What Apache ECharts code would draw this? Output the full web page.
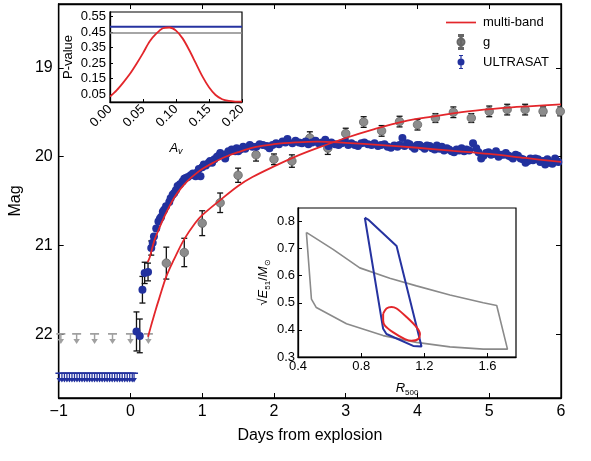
<!DOCTYPE html>
<html><head><meta charset="utf-8">
<script src="https://cdn.jsdelivr.net/npm/echarts@6/dist/echarts.min.js"></script>
<style>html,body{margin:0;padding:0;background:#fff}#c{width:591px;height:461px}</style>
</head><body><div id="c"></div>
<script>
// ---------- main panel data ----------
const xTicks = [-1, 0, 1, 2, 3, 4, 5, 6];
const yTicks = [19, 20, 21, 22];

// g band detections (days, mag, error)
const gDays = [0.5, 0.75, 1.0, 1.25, 1.5, 1.75, 2.0, 2.25, 2.5, 2.75, 3.0, 3.25, 3.5, 3.75, 4.0, 4.25, 4.5, 4.75, 5.0, 5.25, 5.5, 5.75, 5.99];
const gMag = [21.20, 21.08, 20.75, 20.52, 20.21, 19.98, 20.03, 20.05, 19.79, 19.905, 19.74, 19.61, 19.71, 19.605, 19.64, 19.565, 19.50, 19.565, 19.49, 19.47, 19.47, 19.49, 19.49];
const gErr = [0.18, 0.16, 0.14, 0.11, 0.08, 0.07, 0.06, 0.07, 0.07, 0.07, 0.06, 0.06, 0.06, 0.06, 0.06, 0.05, 0.06, 0.05, 0.06, 0.06, 0.06, 0.05, 0.05];

// g band upper limits
const gLimDays = [-0.97, -0.75, -0.5, -0.25, 0.0, 0.25];
const gLimMag = [22.05, 22.05, 22.05, 22.05, 22.05, 22.05];

// ULTRASAT detections
const uvDays = [0.084, 0.13, 0.167, 0.198, 0.245, 0.29, 0.31, 0.327, 0.359, 0.39, 0.41, 0.427, 0.451, 0.47, 0.496, 0.541, 0.56, 0.588, 0.61, 0.633, 0.657, 0.69, 0.725, 0.75, 0.771, 0.8, 0.839, 0.87, 0.908, 0.93, 0.953, 0.976, 1.0, 1.022, 1.05, 1.09, 1.11, 1.137, 1.17, 1.206, 1.23, 1.251, 1.28, 1.32, 1.34, 1.365, 1.411, 1.433, 1.46, 1.48, 1.502, 1.53, 1.571, 1.6, 1.663, 1.7, 1.755, 1.8, 1.845, 1.9, 1.937, 1.98, 2.029, 2.07, 2.12, 2.16, 2.188, 2.257, 2.3, 2.349, 2.39, 2.441, 2.48, 2.531, 2.58, 2.623, 2.67, 2.715, 2.761, 2.8, 2.853, 2.9, 2.943, 2.99, 3.035, 3.08, 3.127, 3.17, 3.218, 3.26, 3.31, 3.36, 3.402, 3.45, 3.492, 3.54, 3.584, 3.63, 3.676, 3.721, 3.75, 3.79, 3.82, 3.859, 3.89, 3.927, 3.96, 3.996, 4.03, 4.064, 4.1, 4.133, 4.17, 4.202, 4.24, 4.27, 4.31, 4.339, 4.37, 4.408, 4.44, 4.476, 4.51, 4.545, 4.58, 4.614, 4.65, 4.682, 4.72, 4.774, 4.819, 4.85, 4.888, 4.92, 4.956, 4.99, 5.025, 5.06, 5.094, 5.13, 5.162, 5.2, 5.231, 5.27, 5.3, 5.33, 5.368, 5.4, 5.437, 5.47, 5.506, 5.54, 5.574, 5.61, 5.643, 5.68, 5.711, 5.75, 5.78, 5.81, 5.849, 5.88, 5.917, 5.94, 5.963];
const uvMag = [21.97, 22.02, 21.50, 21.31, 21.30, 21.03, 20.97, 20.90, 20.81, 20.73, 20.70, 20.68, 20.62, 20.60, 20.56, 20.51, 20.47, 20.43, 20.41, 20.38, 20.33, 20.31, 20.28, 20.25, 20.24, 20.23, 20.21, 20.19, 20.22, 20.18, 20.14, 20.22, 20.12, 20.09, 20.10, 20.07, 20.05, 20.07, 20.03, 20.00, 19.99, 19.96, 19.98, 20.02, 19.97, 19.94, 19.92, 19.93, 19.94, 19.905, 19.94, 19.92, 19.89, 19.91, 19.87, 19.89, 19.89, 19.86, 19.87, 19.88, 19.905, 19.87, 19.85, 19.86, 19.83, 19.84, 19.80, 19.85, 19.82, 19.84, 19.85, 19.83, 19.86, 19.84, 19.82, 19.85, 19.84, 19.81, 19.88, 19.84, 19.86, 19.87, 19.85, 19.83, 19.87, 19.85, 19.87, 19.88, 19.85, 19.84, 19.86, 19.87, 19.85, 19.88, 19.87, 19.86, 19.89, 19.90, 19.875, 19.89, 19.87, 19.79, 19.88, 19.85, 19.86, 19.89, 19.91, 19.87, 19.87, 19.89, 19.91, 19.875, 19.88, 19.905, 19.92, 19.875, 19.91, 19.89, 19.93, 19.905, 19.92, 19.94, 19.95, 19.92, 19.93, 19.905, 19.94, 19.92, 19.93, 19.85, 19.905, 19.95, 20.02, 19.99, 19.96, 19.95, 19.98, 19.97, 19.94, 20.00, 19.98, 19.98, 19.96, 19.99, 20.00, 20.02, 19.98, 19.99, 20.02, 20.03, 20.07, 20.05, 20.02, 20.04, 20.02, 20.03, 20.06, 20.05, 20.09, 20.03, 20.07, 20.08, 20.02, 20.05, 20.06];

// ULTRASAT points with drawn error bars
const uvErrDays = [0.084, 0.13, 0.167, 0.198, 0.245, 0.29];
const uvErrMag = [21.97, 22.02, 21.50, 21.31, 21.30, 21.03];
const uvErrSize = [0.22, 0.19, 0.15, 0.12, 0.10, 0.08];

// ULTRASAT upper limits
const uvLimDays = [-0.99, -0.955, -0.92, -0.885, -0.85, -0.815, -0.78, -0.745, -0.71, -0.675, -0.64, -0.605, -0.57, -0.535, -0.5, -0.465, -0.43, -0.395, -0.36, -0.325, -0.29, -0.255, -0.22, -0.185, -0.15, -0.115, -0.08, -0.045, -0.01, 0.025, 0.05];
const uvLimMag = 22.49;

// multi-band model curves
const uvModelDays = [0.24, 0.27, 0.3, 0.34, 0.4, 0.47, 0.55, 0.62, 0.7, 0.8, 0.9, 1.0, 1.15, 1.3, 1.5, 1.75, 2.0, 2.3, 2.6, 3.0, 3.5, 4.0, 4.5, 5.0, 5.5, 6.0];
const uvModelMag = [21.19, 21.13, 21.04, 20.93, 20.81, 20.68, 20.55, 20.45, 20.36, 20.27, 20.20, 20.14, 20.07, 20.01, 19.95, 19.89, 19.86, 19.84, 19.83, 19.845, 19.87, 19.90, 19.935, 19.97, 20.015, 20.06];
const gModelDays = [0.245, 0.3, 0.35, 0.4, 0.5, 0.6, 0.75, 0.9, 1.0, 1.25, 1.5, 1.7, 2.0, 2.3, 2.6, 3.0, 3.4, 3.8, 4.2, 4.7, 5.2, 5.6, 6.0];
const gModelMag = [22.03, 21.87, 21.73, 21.60, 21.35, 21.17, 20.93, 20.75, 20.66, 20.49, 20.33, 20.23, 20.11, 20.00, 19.905, 19.79, 19.69, 19.605, 19.55, 19.49, 19.45, 19.43, 19.41];

// ---------- inset 1: P-value vs A_V ----------
const avValues = [0, 0.01, 0.02, 0.03, 0.04, 0.05, 0.06, 0.07, 0.08, 0.09, 0.10, 0.11, 0.12, 0.13, 0.14, 0.15, 0.16, 0.17, 0.18, 0.19, 0.20];
const pValues = [0.035, 0.075, 0.125, 0.18, 0.245, 0.315, 0.39, 0.44, 0.475, 0.48, 0.46, 0.41, 0.335, 0.25, 0.165, 0.095, 0.045, 0.018, 0.007, 0.003, 0.002];
const pBlue = 0.485;
const pGrey = 0.445;
const pTicks = [0.05, 0.15, 0.25, 0.35, 0.45, 0.55];
const avTicks = [0, 0.05, 0.10, 0.15, 0.20];

// ---------- inset 2: contours ----------
const greyR = [0.453, 0.622, 0.791, 0.981, 1.15, 1.362, 1.573, 1.658, 1.726, 1.573, 1.362, 1.15, 0.939, 0.707, 0.516, 0.485, 0.453];
const greyE = [0.76, 0.6975, 0.629, 0.591, 0.5625, 0.529, 0.50, 0.49, 0.329, 0.329, 0.3375, 0.354, 0.379, 0.4225, 0.4825, 0.514, 0.76];
const blueR = [0.823, 0.844, 1.024, 1.182, 1.129, 0.96, 0.939, 0.823];
const blueE = [0.814, 0.8075, 0.71, 0.339, 0.341, 0.385, 0.404, 0.814];
const redR = [0.939, 0.96, 0.992, 1.024, 1.087, 1.15, 1.172, 1.161, 1.119, 1.077, 1.003, 0.95, 0.939, 0.939];
const redE = [0.46, 0.479, 0.485, 0.479, 0.4475, 0.41, 0.385, 0.366, 0.36, 0.366, 0.391, 0.416, 0.435, 0.46];
const rTicks = [0.4, 0.8, 1.2, 1.6];
const eTicks = [0.3, 0.4, 0.5, 0.6, 0.7, 0.8];

// ---------- build ----------
const FONT = '"Liberation Sans", Arial, sans-serif';
const RED = '#e3262b', BLUE = '#22319e', GREY = '#8c8c8c';
const zip = (a, b) => a.map((v, i) => [v, b[i]]);
const zip3 = (a, b, c) => a.map((v, i) => [v, b[i], c[i]]);

function errBar(params, api) {
  const x = api.value(0), y = api.value(1), e = api.value(2);
  const t = api.coord([x, y - e]), b = api.coord([x, y + e]);
  const cw = 3, st = { stroke: '#111', lineWidth: 1.3 };
  return { type: 'group', children: [
    { type: 'line', shape: { x1: t[0], y1: t[1], x2: b[0], y2: b[1] }, style: st },
    { type: 'line', shape: { x1: t[0] - cw, y1: t[1], x2: t[0] + cw, y2: t[1] }, style: st },
    { type: 'line', shape: { x1: b[0] - cw, y1: b[1], x2: b[0] + cw, y2: b[1] }, style: st }
  ]};
}
const arrowPath = 'path://M0,0 L10,0 L10,1.6 L5.8,1.6 L5.8,6 L8.6,6 L5,11 L1.4,6 L4.2,6 L4.2,1.6 L0,1.6 Z';
const errIcon = 'path://M3,0 L7,0 L7,1 L5.6,1 L5.6,13 L7,13 L7,14 L3,14 L3,13 L4.4,13 L4.4,1 L3,1 Z M1.5,7 A3.5,3.5 0 0 1 8.5,7 A3.5,3.5 0 0 1 1.5,7 Z';

const tickStyle = { inside: true, length: 5, lineStyle: { color: '#000', width: 1 } };
const lineAx = { show: true, onZero: false, lineStyle: { color: '#000', width: 1.3 } };
const lbl = (fs, extra) => Object.assign({ color: '#000', fontSize: fs, fontFamily: FONT }, extra || {});

const chart = echarts.init(document.getElementById('c'));
chart.setOption({
  animation: false,
  backgroundColor: '#fff',
  textStyle: { fontFamily: FONT },
  grid: [
    { left: 51, right: 30, top: 4, bottom: 63, show: true, borderColor: '#000', borderWidth: 1.3 },
    { left: 110, right: 349, top: 12, bottom: 359, show: true, backgroundColor: '#fff', borderColor: '#000', borderWidth: 1.2 },
    { left: 298, right: 75, top: 208, bottom: 104, show: true, backgroundColor: '#fff', borderColor: '#000', borderWidth: 1.2 }
  ],
  legend: {
    orient: 'vertical', left: 441, top: 11, itemGap: 5, itemWidth: 30, itemHeight: 14,
    selectedMode: false,
    textStyle: lbl(13, { padding: [0, 0, 0, 2] }),
    data: [
      { name: 'multi-band', icon: 'path://M0,0 L30,0 L30,1.7 L0,1.7 Z' },
      { name: 'g', icon: errIcon },
      { name: 'ULTRASAT', icon: errIcon }
    ]
  },
  xAxis: [
    { type: 'value', gridIndex: 0, min: -1, max: 6, interval: 1, axisLine: lineAx, axisTick: tickStyle,
      splitLine: { show: false },
      axisLabel: lbl(16, { margin: 6, formatter: v => v < 0 ? '\u2212' + Math.abs(v) : String(v) }),
      name: 'Days from explosion', nameLocation: 'middle', nameGap: 30, nameTextStyle: lbl(16) },
    { type: 'value', gridIndex: 0, position: 'top', min: -1, max: 6, interval: 1, axisLine: lineAx, axisTick: tickStyle,
      splitLine: { show: false }, axisLabel: { show: false } },
    { type: 'value', gridIndex: 1, min: 0, max: 0.2, interval: 0.05, axisLine: lineAx, axisTick: { inside: true, length: 3 },
      splitLine: { show: false },
      axisLabel: lbl(13, { rotate: 45, margin: 5, formatter: v => v.toFixed(2) }),
      name: '{i|A}{s|v}', nameLocation: 'middle', nameGap: 38,
      nameTextStyle: { rich: { i: { fontSize: 13, fontStyle: 'italic', fontFamily: FONT, color: '#000', lineHeight: 16, verticalAlign: 'middle' },
                               s: { fontSize: 9, fontStyle: 'italic', fontFamily: FONT, color: '#000', lineHeight: 8, verticalAlign: 'bottom' } } } },
    { type: 'value', gridIndex: 2, min: 0.4, max: 1.78, axisLine: lineAx, axisTick: { inside: true, length: 4, customValues: rTicks },
      splitLine: { show: false },
      axisLabel: lbl(13, { margin: 3, customValues: rTicks, formatter: v => v.toFixed(1) }),
      name: '{i|R}{s|500}', nameLocation: 'middle', nameGap: 22,
      nameTextStyle: { rich: { i: { fontSize: 13, fontStyle: 'italic', fontFamily: FONT, color: '#000', lineHeight: 18, verticalAlign: 'middle' },
                               s: { fontSize: 8, fontFamily: FONT, color: '#000', lineHeight: 8, verticalAlign: 'bottom' } } } }
  ],
  yAxis: [
    { type: 'value', gridIndex: 0, min: 18.28, max: 22.72, inverse: true, axisLine: lineAx,
      axisTick: Object.assign({ customValues: yTicks }, tickStyle), splitLine: { show: false },
      axisLabel: lbl(16, { margin: 6, customValues: yTicks }),
      name: 'Mag', nameLocation: 'middle', nameGap: 33, nameTextStyle: lbl(16) },
    { type: 'value', gridIndex: 0, position: 'right', min: 18.28, max: 22.72, inverse: true, axisLine: lineAx,
      axisTick: Object.assign({ customValues: yTicks }, tickStyle), splitLine: { show: false }, axisLabel: { show: false } },
    { type: 'value', gridIndex: 1, min: 0, max: 0.58, axisLine: lineAx,
      axisTick: { inside: true, length: 3, customValues: pTicks }, splitLine: { show: false },
      axisLabel: lbl(13, { margin: 4, customValues: pTicks, formatter: v => v.toFixed(2) }),
      name: 'P-value', nameLocation: 'middle', nameGap: 35, nameTextStyle: lbl(13) },
    { type: 'value', gridIndex: 2, min: 0.3, max: 0.85, axisLine: lineAx,
      axisTick: { inside: true, length: 4, customValues: eTicks }, splitLine: { show: false },
      axisLabel: lbl(13, { margin: 3, customValues: eTicks, formatter: v => v.toFixed(1) }),
      name: '{t|\u221A}{i|E}{s|51}{t|/}{i|M}{s|\u2299}', nameLocation: 'middle', nameGap: 26,
      nameTextStyle: { rich: { t: { fontSize: 13, fontFamily: FONT, color: '#000', lineHeight: 18, verticalAlign: 'middle' },
                               i: { fontSize: 13, fontStyle: 'italic', fontFamily: FONT, color: '#000', lineHeight: 18, verticalAlign: 'middle' },
                               s: { fontSize: 8, fontFamily: FONT, color: '#000', lineHeight: 8, verticalAlign: 'bottom' } } } }
  ],
  series: [
    // error bars
    { name: 'g-err', type: 'custom', xAxisIndex: 0, yAxisIndex: 0, renderItem: errBar, encode: { x: 0, y: 1 }, data: zip3(gDays, gMag, gErr), z: 1, clip: true },
    { name: 'uv-err', type: 'custom', xAxisIndex: 0, yAxisIndex: 0, renderItem: errBar, encode: { x: 0, y: 1 }, data: zip3(uvErrDays, uvErrMag, uvErrSize), z: 1, clip: true },
    // upper limits
    { name: 'g-lim', type: 'scatter', xAxisIndex: 0, yAxisIndex: 0, symbol: arrowPath, symbolSize: [9, 11],
      itemStyle: { color: '#a0a0a0', opacity: 1 }, data: zip(gLimDays, gLimMag), z: 2 },
    { name: 'uv-lim', type: 'scatter', xAxisIndex: 0, yAxisIndex: 0, symbol: arrowPath, symbolSize: [8, 10],
      itemStyle: { color: BLUE, opacity: 1 }, data: uvLimDays.map(d => [d, uvLimMag]), z: 2 },
    // detections
    { name: 'g', type: 'scatter', xAxisIndex: 0, yAxisIndex: 0, symbol: 'circle', symbolSize: 8.5,
      itemStyle: { color: GREY, borderColor: '#666', borderWidth: 0.8, opacity: 1 }, data: zip(gDays, gMag), z: 3 },
    { name: 'ULTRASAT', type: 'scatter', xAxisIndex: 0, yAxisIndex: 0, symbol: 'circle', symbolSize: 8,
      itemStyle: { color: BLUE, opacity: 1 }, data: zip(uvDays, uvMag), z: 4 },
    // models
    { name: 'multi-band', type: 'line', xAxisIndex: 0, yAxisIndex: 0, showSymbol: false, smooth: 0.35,
      lineStyle: { color: RED, width: 1.8 }, itemStyle: { color: RED }, data: zip(uvModelDays, uvModelMag), z: 5 },
    { name: 'multi-band', type: 'line', xAxisIndex: 0, yAxisIndex: 0, showSymbol: false, smooth: 0.35,
      lineStyle: { color: RED, width: 1.8 }, itemStyle: { color: RED }, data: zip(gModelDays, gModelMag), z: 5 },
    // inset 1
    { name: 'p-grey', type: 'line', xAxisIndex: 2, yAxisIndex: 2, showSymbol: false,
      lineStyle: { color: '#888', width: 1.5 }, data: [[avTicks[0], pGrey], [avTicks[avTicks.length - 1], pGrey]], z: 6 },
    { name: 'p-blue', type: 'line', xAxisIndex: 2, yAxisIndex: 2, showSymbol: false,
      lineStyle: { color: '#2633a0', width: 2 }, data: [[avTicks[0], pBlue], [avTicks[avTicks.length - 1], pBlue]], z: 6 },
    { name: 'p-red', type: 'line', xAxisIndex: 2, yAxisIndex: 2, showSymbol: false, smooth: 0.3,
      lineStyle: { color: RED, width: 1.8 }, data: zip(avValues, pValues), z: 7 },
    // inset 2
    { name: 'c-grey', type: 'line', xAxisIndex: 3, yAxisIndex: 3, showSymbol: false,
      lineStyle: { color: '#8a8a8a', width: 1.6 }, data: zip(greyR, greyE), z: 6 },
    { name: 'c-blue', type: 'line', xAxisIndex: 3, yAxisIndex: 3, showSymbol: false,
      lineStyle: { color: '#2633a0', width: 2 }, data: zip(blueR, blueE), z: 7 },
    { name: 'c-red', type: 'line', xAxisIndex: 3, yAxisIndex: 3, showSymbol: false, smooth: 0.3,
      lineStyle: { color: RED, width: 2 }, data: zip(redR, redE), z: 8 }
  ]
});
</script>
</body></html>
